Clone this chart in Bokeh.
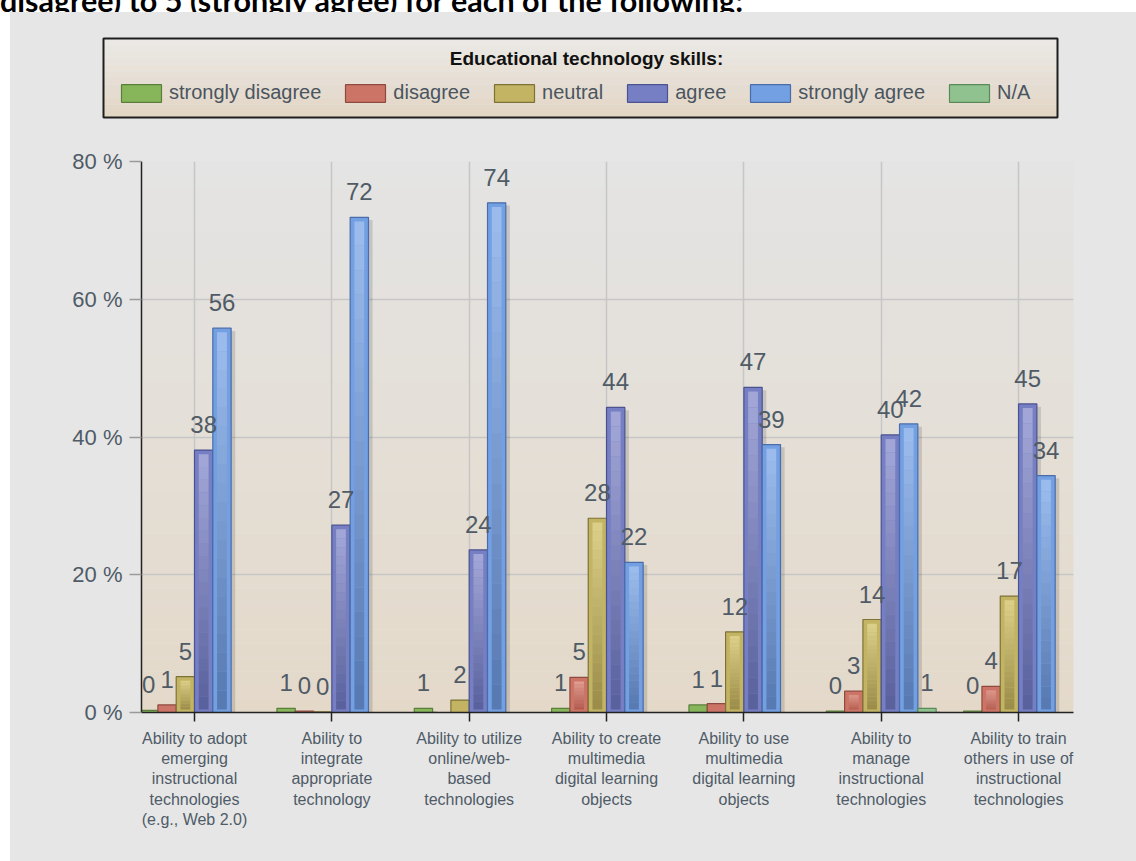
import math
from bokeh.plotting import figure
from bokeh.models import (ColumnDataSource, Range1d, FixedTicker, Legend, LegendItem,
                          Label, LabelSet, BoxAnnotation, Div)
from bokeh.core.properties import value
from bokeh.layouts import column
from bokeh.embed import file_html
from bokeh.resources import INLINE

# ---------------- data ----------------
categories = [
    "Ability to adopt\nemerging\ninstructional\ntechnologies\n(e.g., Web 2.0)",
    "Ability to\nintegrate\nappropriate\ntechnology",
    "Ability to utilize\nonline/web-\nbased\ntechnologies",
    "Ability to create\nmultimedia\ndigital learning\nobjects",
    "Ability to use\nmultimedia\ndigital learning\nobjects",
    "Ability to\nmanage\ninstructional\ntechnologies",
    "Ability to train\nothers in use of\ninstructional\ntechnologies",
]
series_names = ["strongly disagree", "disagree", "neutral", "agree", "strongly agree", "N/A"]
nan = float("nan")
strongly_disagree = [0.3, 0.6, 0.6, 0.6, 1.1, 0.2, 0.2]
disagree = [1.1, 0.2, nan, 5.1, 1.3, 3.1, 3.8]
neutral = [5.2, 0.1, 1.8, 28.2, 11.7, 13.5, 16.9]
agree = [38.1, 27.2, 23.6, 44.3, 47.2, 40.3, 44.8]
strongly_agree = [55.8, 71.9, 74.0, 21.8, 38.9, 41.9, 34.4]
not_applicable = [nan, nan, nan, nan, nan, 0.6, nan]
series_values = [strongly_disagree, disagree, neutral, agree, strongly_agree, not_applicable]
y_ticks = [0, 20, 40, 60, 80]
y_tick_labels = ["0 %", "20 %", "40 %", "60 %", "80 %"]
legend_title = "Educational technology skills:"
page_heading = "disagree) to 5 (strongly agree) for each of the following:"

# ---------------- style ----------------
edge_colors = ["#86b55a", "#cc7466", "#c2b463", "#767fc4", "#72a0e2", "#8fc28f"]
inner_top = ["#a9d183", "#e0a093", "#dcd08a", "#a3a8d8", "#9dbdee", "#b2d8b2"]
inner_bot = ["#6f9a48", "#b05a4d", "#9a8c48", "#58609c", "#5678b0", "#6f9f6f"]
outline_colors = ["#5a7f3a", "#8f4a40", "#7d7236", "#4a5290", "#4a6ca8", "#5a8a5a"]
text_color = "#4f5b66"
BG = "#e6e6e6"
FONT = "Liberation Sans"
slot = 0.1333


def hex2rgb(h):
    h = h.lstrip("#")
    return tuple(int(h[i:i + 2], 16) for i in (0, 2, 4))


def mix(c1, c2, t):
    a, b = hex2rgb(c1), hex2rgb(c2)
    return "#%02x%02x%02x" % tuple(int(round(a[i] + (b[i] - a[i]) * t)) for i in range(3))


# ================= main chart =================
p = figure(width=1126, height=721, output_backend="svg", toolbar_location=None,
           x_range=Range1d(-0.386, 6.400), y_range=Range1d(y_ticks[0], y_ticks[-1]),
           min_border_left=131, min_border_right=63, min_border_top=21, min_border_bottom=149)
p.margin = 0
p.frame_align = False
p.border_fill_color = BG
p.background_fill_color = "#e4e4e4"
p.outline_line_color = None

# plot-area background gradient (grey at top to beige at bottom)
n_bands = 40
for b in range(n_bands):
    lo = y_ticks[-1] * b / n_bands
    hi = y_ticks[-1] * (b + 1) / n_bands
    col = mix("#e4d9c9", "#e4e4e4", (b + 0.5) / n_bands)
    p.add_layout(BoxAnnotation(bottom=lo, top=hi, fill_color=col, fill_alpha=1.0,
                               line_color=None, level="image"))

cat_idx = list(range(len(categories)))
p.xgrid.ticker = FixedTicker(ticks=cat_idx)
p.ygrid.ticker = FixedTicker(ticks=y_ticks)
for g in (p.xgrid, p.ygrid):
    g.grid_line_color = "#c6c6c6"
    g.grid_line_width = 1.5

# shadows
sh_x, sh_top = [], []
for k, vals in enumerate(series_values):
    for i, v in enumerate(vals):
        if not math.isnan(v):
            sh_x.append(i + (k - 2.5) * slot + 0.03)
            sh_top.append(max(v - 0.4, 0))
p.vbar(x=sh_x, top=sh_top, bottom=0, width=slot, fill_color="#000000",
       fill_alpha=0.13, line_color=None)

lab_x, lab_y, lab_t = [], [], []
for k, vals in enumerate(series_values):
    xs, tops = [], []
    for i, v in enumerate(vals):
        if not math.isnan(v):
            xs.append(i + (k - 2.5) * slot)
            tops.append(v)
            lab_x.append(i + (k - 2.5) * slot)
            lab_y.append(v)
            lab_t.append(str(int(math.floor(v + 0.5))))
    src = ColumnDataSource(dict(x=xs, top=tops))
    p.vbar(x="x", top="top", bottom=0, width=slot, source=src,
           fill_color=edge_colors[k], line_color=outline_colors[k], line_width=1.2)
    # inner gradient highlight
    seg_x, seg_b, seg_t, seg_c = [], [], [], []
    nseg = 20
    for x0, v in zip(xs, tops):
        if v < 2.0:
            continue
        b0, t0 = 0.45, v - 0.6
        for j in range(nseg):
            seg_x.append(x0)
            seg_b.append(b0 + (t0 - b0) * j / nseg)
            seg_t.append(b0 + (t0 - b0) * (j + 1) / nseg)
            seg_c.append(mix(inner_bot[k], inner_top[k], (j + 0.5) / nseg))
    if seg_x:
        p.vbar(x=seg_x, bottom=seg_b, top=seg_t, width=slot - 0.062,
               fill_color=seg_c, line_color=None)

# value labels
lab_src = ColumnDataSource(dict(x=lab_x, y=lab_y, t=lab_t))
p.add_layout(LabelSet(x="x", y="y", text="t", source=lab_src, y_offset=17,
                      text_align="center", text_baseline="alphabetic",
                      text_font=value(FONT), text_font_size=value("24px"),
                      text_color=text_color))

# axes
p.xaxis.ticker = FixedTicker(ticks=cat_idx)
p.xaxis.major_label_overrides = {i: c for i, c in enumerate(categories)}
p.xaxis.major_label_text_font = FONT
p.xaxis.major_label_text_font_size = "16px"
p.xaxis.major_label_text_color = text_color
p.xaxis.major_label_text_align = "center"
p.xaxis.major_label_standoff = 8
p.xaxis.major_tick_out = 9
p.xaxis.major_tick_in = 0
p.xaxis.minor_tick_line_color = None
p.xaxis.axis_line_color = "#222222"
p.xaxis.axis_line_width = 1.5
p.xaxis.major_tick_line_color = "#222222"
p.xaxis.major_tick_line_width = 1.5

p.yaxis.ticker = FixedTicker(ticks=y_ticks)
p.yaxis.major_label_overrides = {t: l for t, l in zip(y_ticks, y_tick_labels)}
p.yaxis.major_label_text_font = FONT
p.yaxis.major_label_text_font_size = "22px"
p.yaxis.major_label_text_color = text_color
p.yaxis.major_label_standoff = 7
p.yaxis.major_tick_out = 12
p.yaxis.major_tick_in = 0
p.yaxis.minor_tick_line_color = None
p.yaxis.major_tick_line_color = "#9a9a9a"
p.yaxis.major_tick_line_width = 1.5
p.yaxis.axis_line_color = "#222222"
p.yaxis.axis_line_width = 1.5

# ================= legend strip =================
STRIP_W, STRIP_H = 1126, 128
pl = figure(width=STRIP_W, height=STRIP_H, output_backend="svg", toolbar_location=None,
            x_range=Range1d(0, STRIP_W), y_range=Range1d(0, STRIP_H),
            x_axis_location=None, y_axis_location=None, min_border=0)
pl.margin = 0
pl.frame_align = False
pl.border_fill_color = BG
pl.background_fill_color = BG
pl.outline_line_color = None
pl.grid.visible = False

# legend box (pixel positions inside the strip: x from left, y from bottom)
box_l, box_r, box_b, box_t = 93, 1047, 23, 102
n_lb = 12
for b in range(n_lb):
    lo = box_b + (box_t - box_b) * b / n_lb
    hi = box_b + (box_t - box_b) * (b + 1) / n_lb
    pl.add_layout(BoxAnnotation(left=box_l, right=box_r, bottom=lo, top=hi,
                                fill_color=mix("#e2d5c4", "#ebe9e6", (b + 0.5) / n_lb),
                                fill_alpha=1.0, line_color=None, level="image"))
pl.add_layout(BoxAnnotation(left=box_l, right=box_r, bottom=box_b, top=box_t,
                            fill_alpha=0.0, line_color="#1e1e1e", line_width=2,
                            line_alpha=1.0, level="annotation"))

legend_items = []
for k, name in enumerate(series_names):
    r = pl.vbar(x=[nan], top=[nan], width=1, fill_color=edge_colors[k],
                line_color=outline_colors[k], line_width=1.2)
    legend_items.append(LegendItem(label=name, renderers=[r]))
legend = Legend(items=legend_items, orientation="horizontal", location=(106, 36),
                padding=15, margin=0, spacing=19,
                glyph_width=50, glyph_height=22, label_standoff=3,
                label_text_font=FONT, label_text_font_size="20px",
                label_text_color="#4a5560",
                background_fill_alpha=0.0, border_line_color=None)
pl.add_layout(legend, "center")
pl.add_layout(Label(x=576, y=82, text=legend_title,
                    text_align="center", text_baseline="middle", text_font=FONT,
                    text_font_size="19px", text_font_style="bold", text_color="#111111"))

heading = Div(text='<div style="font-family: Lato, sans-serif; font-weight: bold; '
                   'font-size: 30.5px; line-height: 36px; margin-top: -22px; white-space: nowrap; '
                   'color: #000;">' + page_heading + '</div>',
              width=1136, height=12, margin=0,
              styles={"overflow": "hidden", "background-color": "white"})

body = column(pl, p, spacing=0, margin=(0, 0, 0, 10), styles={"background-color": BG})
layout = column(heading, body, spacing=0)
open("out.html", "w").write(file_html(layout, INLINE))
